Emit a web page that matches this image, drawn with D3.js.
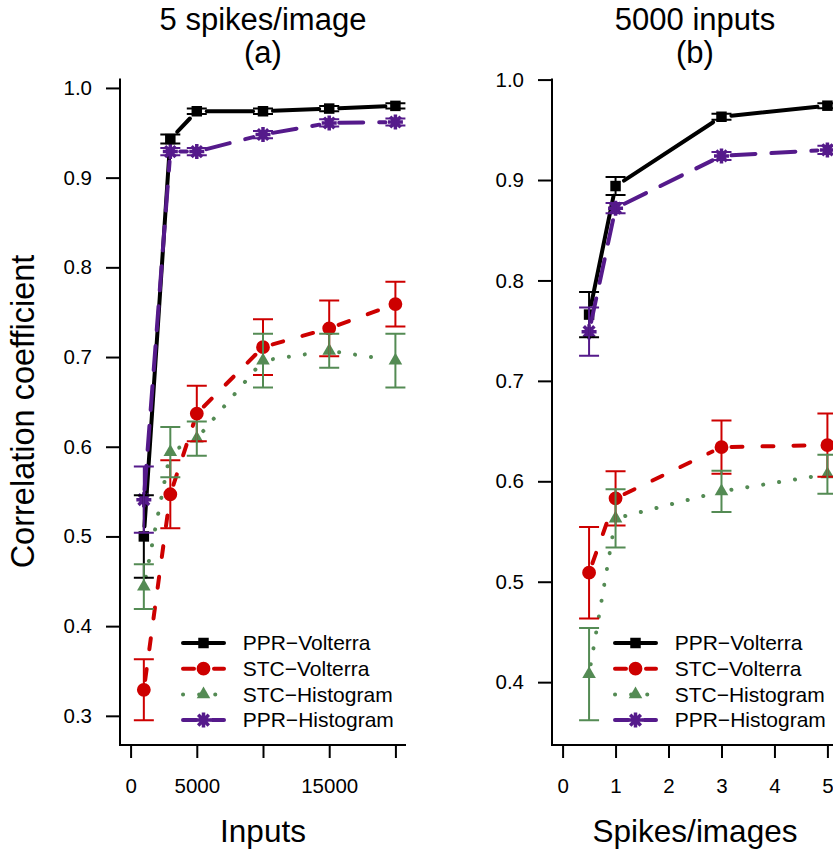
<!DOCTYPE html>
<html>
<head>
<meta charset="utf-8">
<script src="https://cdn.jsdelivr.net/npm/d3@7"></script>
<style>
  body { margin: 0; background: #fff; }
  svg { display: block; font-family: "Liberation Sans", Arial, Helvetica, sans-serif; }
</style>
</head>
<body>
<svg id="chart" width="833" height="852"></svg>
<script>
// series names, in legend order
const seriesNames = ["PPR\u2212Volterra", "STC\u2212Volterra", "STC\u2212Histogram", "PPR\u2212Histogram"];

// panel (a): 5 spikes/image, x = number of inputs
const inputsA = [1000, 3000, 5000, 10000, 15000, 20000];
const pprVolterraA = [0.500, 0.943, 0.974, 0.974, 0.977, 0.980];
const pprVolterraErrA = [0.046, 0.005, 0.003, 0.003, 0.003, 0.003];
const stcVolterraA = [0.329, 0.547, 0.637, 0.711, 0.732, 0.759];
const stcVolterraErrA = [0.034, 0.038, 0.031, 0.031, 0.031, 0.025];
const stcHistogramA = [0.444, 0.594, 0.609, 0.696, 0.707, 0.696];
const stcHistogramErrA = [0.025, 0.028, 0.019, 0.030, 0.019, 0.030];
const pprHistogramA = [0.541, 0.929, 0.929, 0.948, 0.961, 0.962];
const pprHistogramErrA = [0.037, 0.004, 0.004, 0.004, 0.004, 0.004];

// panel (b): 5000 inputs, x = spikes per image
const spikesB = [0.5, 1, 3, 5];
const pprVolterraB = [0.766, 0.894, 0.963, 0.974];
const pprVolterraErrB = [0.0225, 0.009, 0.003, 0.0025];
const stcVolterraB = [0.509, 0.583, 0.634, 0.636];
const stcVolterraErrB = [0.0455, 0.027, 0.0265, 0.0315];
const stcHistogramB = [0.408, 0.563, 0.590, 0.607];
const stcHistogramErrB = [0.046, 0.029, 0.0205, 0.0195];
const pprHistogramB = [0.749, 0.872, 0.924, 0.930];
const pprHistogramErrB = [0.024, 0.005, 0.004, 0.004];

// ticks and labels
const xTicksA = [0, 5000, 10000, 15000, 20000];
const xTickLabelsA = ["0", "5000", "", "15000", ""];
const xTicksB = [0, 1, 2, 3, 4, 5];
const xTickLabelsB = ["0", "1", "2", "3", "4", "5"];
const yTicksA = [0.3, 0.4, 0.5, 0.6, 0.7, 0.8, 0.9, 1.0];
const yTicksB = [0.4, 0.5, 0.6, 0.7, 0.8, 0.9, 1.0];
const titleA = ["5 spikes/image", "(a)"];
const titleB = ["5000 inputs", "(b)"];
const xLabelA = "Inputs";
const xLabelB = "Spikes/images";
const yLabel = "Correlation coefficient";

// look of each series
const styles = [
  { color: "#000000", dash: null, legendOffset: 0, shape: "square" },
  { color: "#CD0000", dash: "11,20", legendOffset: 0, shape: "circle" },
  { color: "#548B54", dash: "0.1,16", legendOffset: 0, shape: "triangle" },
  { color: "#551A8B", dash: "24,16", legendOffset: 11, shape: "star" }
];

const svg = d3.select("#chart");
const plotTop = 78.5, plotBottom = 745, plotW = 286;

function marker(g, shape, color) {
  if (shape === "star") {
    const r = 7.5, q = r * 0.7071;
    g.append("path")
      .attr("d", `M${-r},0H${r}M0,${-r}V${r}M${-q},${-q}L${q},${q}M${-q},${q}L${q},${-q}`)
      .attr("stroke", color).attr("stroke-width", 3.5).attr("fill", "none");
    return;
  }
  const type = { square: d3.symbolSquare, circle: d3.symbolCircle, triangle: d3.symbolTriangle }[shape];
  const size = { square: 110, circle: 150, triangle: 80 }[shape];
  g.append("path").attr("d", d3.symbol(type, size)()).attr("fill", color);
}

function drawPanel(p) {
  const left = p.left, right = left + plotW;
  const xMax = d3.max(p.xs);
  const x = d3.scaleLinear().domain([0 - xMax * 0.04, xMax * 1.04]).range([left, right]);

  const lo = d3.min(p.values, (v, s) => d3.min(v, (d, i) => d - p.errs[s][i]));
  const hi = d3.max(p.values, (v, s) => d3.max(v, (d, i) => d + p.errs[s][i]));
  const pad = (hi - lo) * 0.04;
  const y = d3.scaleLinear().domain([lo - pad, hi + pad]).range([plotBottom, plotTop]);

  const g = svg.append("g");

  // axes
  const ya = g.append("g").attr("transform", `translate(${left},0)`)
    .call(d3.axisLeft(y).tickValues(p.yTicks).tickFormat(d3.format(".1f")).tickSize(14).tickPadding(14));
  const xa = g.append("g").attr("transform", `translate(0,${plotBottom})`)
    .call(d3.axisBottom(x).tickValues(p.xTicks).tickFormat((d, i) => p.xTickLabels[i]).tickSize(13).tickPadding(20));
  [ya, xa].forEach(ax => {
    ax.select(".domain").remove();
    ax.selectAll("line").attr("stroke", "#000").attr("stroke-width", 2);
    ax.selectAll("text").attr("font-size", 20.5).attr("font-family", null).attr("fill", "#000");
  });
  g.append("path").attr("d", `M${left},${plotTop}V${plotBottom}H${right}`)
    .attr("fill", "none").attr("stroke", "#000").attr("stroke-width", 2);

  // lines (type "b": segments stop short of the points)
  const gap = 10;
  p.values.forEach((vals, s) => {
    const st = styles[s];
    const pts = vals.map((v, i) => [x(p.xs[i]), y(v)]);
    const segs = d3.pairs(pts).filter(([a, b]) => Math.hypot(b[0] - a[0], b[1] - a[1]) > 2 * gap);
    g.append("g").selectAll("line").data(segs).join("line")
      .each(function ([a, b]) {
        const len = Math.hypot(b[0] - a[0], b[1] - a[1]);
        const ux = (b[0] - a[0]) / len, uy = (b[1] - a[1]) / len;
        d3.select(this)
          .attr("x1", a[0] + ux * gap).attr("y1", a[1] + uy * gap)
          .attr("x2", b[0] - ux * gap).attr("y2", b[1] - uy * gap);
      })
      .attr("stroke", st.color).attr("stroke-width", 4)
      .attr("stroke-linecap", "round")
      .attr("stroke-dasharray", st.dash);
    pts.forEach(pt => {
      const mg = g.append("g").attr("transform", `translate(${pt[0]},${pt[1]})`);
      marker(mg, st.shape, st.color);
    });
  });

  // error bars
  p.values.forEach((vals, s) => {
    const st = styles[s];
    const eg = g.append("g").attr("stroke", st.color).attr("stroke-width", 2).attr("fill", "none");
    vals.forEach((v, i) => {
      const cx = x(p.xs[i]), y1 = y(v - p.errs[s][i]), y2 = y(v + p.errs[s][i]);
      eg.append("path").attr("d", `M${cx},${y1}V${y2}M${cx - 10},${y1}H${cx + 10}M${cx - 10},${y2}H${cx + 10}`);
    });
  });

  // titles and labels
  const cx = (left + right) / 2;
  g.append("text").attr("x", cx).attr("y", 30).attr("text-anchor", "middle").attr("font-size", 31).text(p.title[0]);
  g.append("text").attr("x", cx).attr("y", 63).attr("text-anchor", "middle").attr("font-size", 31).text(p.title[1]);
  g.append("text").attr("x", cx).attr("y", 842).attr("text-anchor", "middle").attr("font-size", 31.5).text(p.xLabel);

  // legend
  const lg = g.append("g");
  seriesNames.forEach((name, s) => {
    const st = styles[s];
    const ly = 643 + s * 25.7;
    lg.append("line").attr("x1", left + 63).attr("x2", left + 104).attr("y1", ly).attr("y2", ly)
      .attr("stroke", st.color).attr("stroke-width", 4).attr("stroke-linecap", "round")
      .attr("stroke-dasharray", st.dash).attr("stroke-dashoffset", st.legendOffset);
    marker(lg.append("g").attr("transform", `translate(${left + 83.5},${ly})`), st.shape, st.color);
    lg.append("text").attr("x", left + 122.7).attr("y", ly).attr("dy", "0.35em")
      .attr("font-size", 21).text(name);
  });
}

drawPanel({
  left: 120, xs: inputsA,
  values: [pprVolterraA, stcVolterraA, stcHistogramA, pprHistogramA],
  errs: [pprVolterraErrA, stcVolterraErrA, stcHistogramErrA, pprHistogramErrA],
  xTicks: xTicksA, xTickLabels: xTickLabelsA, yTicks: yTicksA,
  title: titleA, xLabel: xLabelA
});
drawPanel({
  left: 552, xs: spikesB,
  values: [pprVolterraB, stcVolterraB, stcHistogramB, pprHistogramB],
  errs: [pprVolterraErrB, stcVolterraErrB, stcHistogramErrB, pprHistogramErrB],
  xTicks: xTicksB, xTickLabels: xTickLabelsB, yTicks: yTicksB,
  title: titleB, xLabel: xLabelB
});

svg.append("text")
  .attr("transform", "translate(33.5,411.5) rotate(-90)")
  .attr("text-anchor", "middle").attr("font-size", 32.5).text(yLabel);
</script>
</body>
</html>
